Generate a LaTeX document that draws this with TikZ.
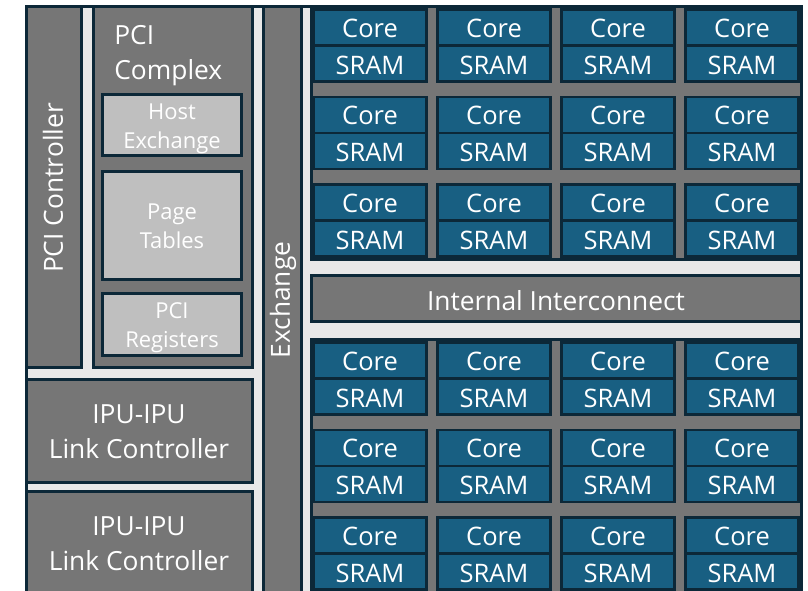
\documentclass[tikz,border=0pt]{standalone}
\usepackage{fontspec}
\setmainfont{Open Sans}
\definecolor{navy}{HTML}{0C2838}
\definecolor{tileblue}{HTML}{185F82}
\definecolor{blockgray}{HTML}{767676}
\definecolor{gapgray}{HTML}{E8E8E8}
\definecolor{boxgray}{HTML}{BFBFBF}
\tikzset{
  blk/.style={draw=navy,line width=1.7pt,fill=blockgray},
  subblk/.style={draw=navy,line width=1.7pt,fill=boxgray},
  tile/.style={draw=navy,line width=1.7pt,fill=tileblue},
  lbl/.style={text=white,inner sep=0pt,align=center,font=\fontsize{15}{20}\selectfont},
  sublbl/.style={text=white,inner sep=0pt,align=center,font=\fontsize{12.5}{16.5}\selectfont},
  tilelbl/.style={text=white,inner sep=0pt,font=\fontsize{14.5}{17}\selectfont}
}
\begin{document}
\begin{tikzpicture}[x=0.02cm,y=-0.02cm]
    \useasboundingbox (0,0) rectangle (808,591);
    \clip (0,0) rectangle (808,591);
    % frame and left column
    \draw[blk,fill=gapgray] (26.5,6.5) rectangle (801.5,640);
    \draw[blk] (26.5,6.5) rectangle (81.5,367.5);
    \draw[blk] (93.5,6.5) rectangle (252.5,367.5);
    \draw[subblk] (102.5,94.5) rectangle (241.5,155.5);
    \draw[subblk] (102.5,171.5) rectangle (241.5,279.5);
    \draw[subblk] (102.5,293.5) rectangle (241.5,355.5);
    \draw[blk] (26.5,379.5) rectangle (252.5,482.5);
    \draw[blk] (26.5,491.5) rectangle (252.5,640);
    \draw[blk] (263.5,6.5) rectangle (301.5,640);
    % tile blocks
    \draw[blk] (311.5,6.5) rectangle (801.5,259.5);
    \draw[blk] (311.5,275.5) rectangle (801.5,321.5);
    \draw[blk] (311.5,339.5) rectangle (801.5,640);
    \foreach \r [count=\i] in {8,95.5,183,341,428.5,516}
      \foreach \c [count=\j] in {312,436,560,684} {
        \draw[tile] (\c+1.5,\r+1.5) rectangle (\c+114.5,\r+37.5);
        \draw[tile] (\c+1.5,\r+37.5) rectangle (\c+114.5,\r+73.5);
        \node[tilelbl] (core\i\j) at (\c+58,\r+20) {Core};
        \node[tilelbl] (sram\i\j) at (\c+58,\r+57) {SRAM};
      }
    % labels
    \node[lbl,rotate=90] (pcictl) at (53,188) {PCI Controller};
    \node[lbl,anchor=north west,align=left] (pcicx) at (114,25) {PCI\\Complex};
    \node[sublbl] (hostex) at (172,129) {Host\\Exchange};
    \node[sublbl] (pagetab) at (172,226) {Page\\Tables};
    \node[sublbl] (pcireg) at (172,328) {PCI\\Registers};
    \node[lbl] (link1) at (139,432) {IPU-IPU\\Link Controller};
    \node[lbl] (link2) at (139,544) {IPU-IPU\\Link Controller};
    \node[lbl,rotate=90] (exch) at (283,300) {Exchange};
    \node[lbl] (icon) at (556,301) {Internal Interconnect};
\end{tikzpicture}
\end{document}
